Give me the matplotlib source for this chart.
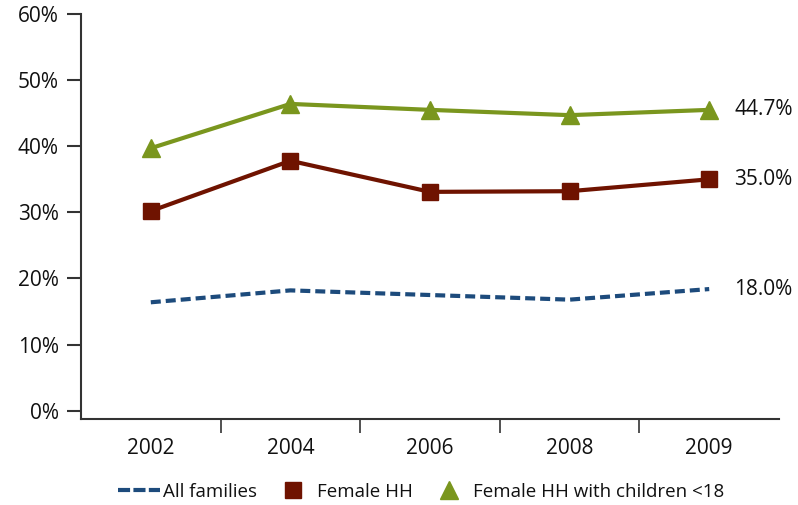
import matplotlib
matplotlib.use("Agg")
import matplotlib.pyplot as plt
from matplotlib.lines import Line2D

plt.rcParams['font.family'] = ['Open Sans', 'DejaVu Sans']

years = ['2002', '2004', '2006', '2008', '2009']
all_families = [16.4, 18.2, 17.5, 16.8, 18.4]
female_hh = [30.2, 37.8, 33.1, 33.2, 35.0]
female_hh_kids = [39.7, 46.4, 45.5, 44.7, 45.5]
end_labels = ['18.0%', '35.0%', '44.7%']

c_blue = '#1D4B7C'
c_red = '#6F1300'
c_green = '#7A961E'

fig = plt.figure(figsize=(7.98, 5.05), dpi=100)
ax = fig.add_axes([0.1015, 0.1703, 0.8747, 0.802])

x = list(range(len(years)))
ax.plot(x, all_families, color=c_blue, lw=3, linestyle=(0, (2.4, 1.2)))
ax.plot(x, female_hh, color=c_red, lw=3, marker='s', markersize=12)
ax.plot(x, female_hh_kids, color=c_green, lw=3, marker='^', markersize=13)

# labels at the end of each series
for series, lab in zip([all_families, female_hh, female_hh_kids], end_labels):
    ax.annotate(lab, (x[-1], series[-1]), xytext=(18, 0), textcoords='offset points',
                va='center', ha='left', fontsize=15, color='#111111')

ax.set_xlim(-0.5, len(years) - 0.5)
ax.set_ylim(-1.25, 60)
ax.set_yticks([0, 10, 20, 30, 40, 50, 60])
ax.set_yticklabels(['%d%%' % v for v in [0, 10, 20, 30, 40, 50, 60]])
ax.set_xticks(x)
ax.set_xticklabels(years)
ax.set_xticks([0.5, 1.5, 2.5, 3.5], minor=True)

for s in ['top', 'right']:
    ax.spines[s].set_visible(False)
for s in ['left', 'bottom']:
    ax.spines[s].set_color('#333333')
    ax.spines[s].set_linewidth(1.5)

ax.tick_params(axis='y', length=10, width=1.5, color='#333333', labelsize=15,
               labelcolor='#111111', pad=6)
ax.tick_params(axis='x', which='major', length=0, labelsize=15, labelcolor='#111111', pad=14)
ax.tick_params(axis='x', which='minor', length=10, width=1.2, color='#333333')

handles = [
    Line2D([], [], color=c_blue, lw=3, linestyle=(0, (2.9, 0.8))),
    Line2D([], [], color=c_red, lw=0, marker='s', markersize=12),
    Line2D([], [], color=c_green, lw=0, marker='^', markersize=13),
]
fig.legend(handles, ['All families', 'Female HH', 'Female HH with children <18'],
           loc='center', bbox_to_anchor=(0.528, 0.026), ncol=3, frameon=False,
           fontsize=13.5, handlelength=2.2, columnspacing=0.8, handletextpad=0.2,
           labelcolor='#111111')

fig.savefig('out.png', dpi=100)
